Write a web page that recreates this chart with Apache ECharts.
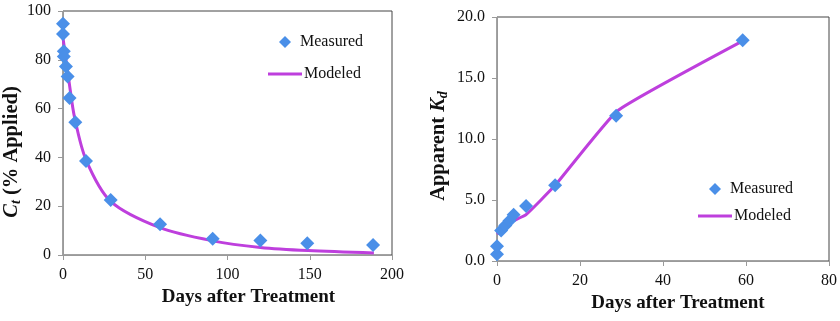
<!DOCTYPE html>
<html><head><meta charset="utf-8">
<script src="https://cdn.jsdelivr.net/npm/echarts@6/dist/echarts.min.js"></script>
<style>html,body{margin:0;padding:0;background:#fff}#c{width:840px;height:321px}</style>
</head><body><div id="c"></div>
<script>
// Left chart: Ct (% applied) vs days
const ctMeasDays = [0, 0, 0.5, 0.5, 1.8, 2.8, 4, 7.5, 14, 29, 59, 91, 120, 148.5, 188.5];
const ctMeasVals = [94.8, 90.6, 83.5, 81.4, 77.3, 73.2, 64.3, 54.4, 38.5, 22.5, 12.6, 6.7, 5.9, 4.8, 4.1];
const ctModDays = [0, 1, 2, 3, 4, 7, 14, 29, 59, 91, 120, 149, 189];
const ctModVals = [89, 84, 79, 74.5, 69.5, 56.5, 39, 22, 11.2, 5.8, 3.1, 1.8, 0.8];
const ctXTicks = [0, 50, 100, 150, 200];
const ctYTicks = [0, 20, 40, 60, 80, 100];
// Right chart: apparent Kd vs days
const kdMeasDays = [0, 0, 1, 2, 3, 4, 7, 14, 28.7, 59.2];
const kdMeasVals = [0.55, 1.2, 2.5, 2.9, 3.3, 3.8, 4.5, 6.2, 11.9, 18.1];
const kdModDays = [0, 1, 2, 3, 4, 7, 14, 29, 59];
const kdModVals = [2.2, 2.5, 2.8, 3.1, 3.3, 3.8, 6.2, 12.3, 18.0];
const kdXTicks = [0, 20, 40, 60, 80];
const kdYTicks = [0, 5, 10, 15, 20];

const zip = (a, b) => a.map((v, i) => [v, b[i]]);
const FONT = '"Liberation Serif", "Times New Roman", serif';
const BLUE = '#4A8FE8';
const MAG = '#BE3FDD';

function xAxis(gridIndex, ticks, gap, pad) {
  return {
    type: 'value', gridIndex, min: ticks[0], max: ticks[ticks.length - 1],
    interval: ticks[1] - ticks[0],
    name: 'Days after Treatment', nameLocation: 'middle', nameGap: gap,
    nameTextStyle: { fontFamily: FONT, fontWeight: 'bold', fontSize: 19, color: '#111', padding: pad },
    axisLine: { show: true, lineStyle: { color: '#9a9a9a', width: 1 } },
    axisTick: { show: true, inside: false, length: 5, lineStyle: { color: '#9a9a9a' } },
    axisLabel: { fontFamily: FONT, fontSize: 16, color: '#111', margin: 12 },
    splitLine: { show: false }
  };
}
function yAxis(gridIndex, ticks, name, gap, decimals, rich, pad) {
  return {
    type: 'value', gridIndex, min: ticks[0], max: ticks[ticks.length - 1],
    interval: ticks[1] - ticks[0],
    name, nameLocation: 'middle', nameGap: gap,
    nameTextStyle: { fontFamily: FONT, fontWeight: 'bold', fontSize: 20, color: '#111', rich, padding: pad },
    axisLine: { show: true, lineStyle: { color: '#9a9a9a', width: 1 } },
    axisTick: { show: true, inside: false, length: 5, lineStyle: { color: '#9a9a9a' } },
    axisLabel: { fontFamily: FONT, fontSize: 16, color: '#111', margin: 12,
      formatter: v => v.toFixed(decimals) },
    splitLine: { show: false }
  };
}
const richBase = {
  b: { fontFamily: FONT, fontWeight: 'bold', fontSize: 20.5, color: '#111' },
  i: { fontFamily: FONT, fontWeight: 'bold', fontStyle: 'italic', fontSize: 20.5, color: '#111' },
  sub: { fontFamily: FONT, fontWeight: 'bold', fontStyle: 'italic', fontSize: 14, color: '#111', padding: [8, 0, 0, 0] }
};
const legText = { fontFamily: FONT, fontSize: 16, color: '#111' };

const chart = echarts.init(document.getElementById('c'), null, { renderer: 'canvas' });
chart.setOption({
  animation: false,
  backgroundColor: '#fff',
  grid: [
    { left: 63, right: 448, top: 11, bottom: 66, show: true, borderColor: '#444', borderWidth: 1, backgroundColor: 'transparent' },
    { left: 497, right: 10, top: 17, bottom: 60, show: true, borderColor: '#444', borderWidth: 1, backgroundColor: 'transparent' }
  ],
  xAxis: [xAxis(0, ctXTicks, 31, [0, 0, 0, 42]), xAxis(1, kdXTicks, 32, [0, 0, 0, 30])],
  yAxis: [
    yAxis(0, ctYTicks, '{i|C}{sub|t}{b| (% Applied)}', 36, 0, richBase, [0, 38, 0, 0]),
    yAxis(1, kdYTicks, '{b|Apparent }{i|K}{sub|d}', 47, 1, richBase, [0, 14, 0, 0])
  ],
  legend: [
    { left: 279, top: 34, padding: 0, itemWidth: 12, itemHeight: 12, icon: 'diamond',
      textStyle: Object.assign({ padding: [0, 0, 0, 4] }, legText), data: ['Measured'] },
    { left: 268, top: 66, padding: 0, itemWidth: 34, itemHeight: 3, icon: 'rect',
      textStyle: Object.assign({ padding: [0, 0, 0, -3] }, legText), data: ['Modeled'] },
    { left: 709, top: 181, padding: 0, itemWidth: 12, itemHeight: 12, icon: 'diamond',
      textStyle: Object.assign({ padding: [0, 0, 0, 4] }, legText), data: ['Measured'] },
    { left: 698, top: 208, padding: 0, itemWidth: 34, itemHeight: 3, icon: 'rect',
      textStyle: Object.assign({ padding: [0, 0, 0, -3] }, legText), data: ['Modeled'] }
  ],
  series: [
    { name: 'Modeled', type: 'line', xAxisIndex: 0, yAxisIndex: 0, data: zip(ctModDays, ctModVals),
      smooth: 0.3, showSymbol: false, symbol: 'none', lineStyle: { color: MAG, width: 3 }, itemStyle: { color: MAG }, z: 2 },
    { name: 'Measured', type: 'scatter', xAxisIndex: 0, yAxisIndex: 0, data: zip(ctMeasDays, ctMeasVals),
      symbol: 'diamond', symbolSize: 14, itemStyle: { color: BLUE, opacity: 1 }, z: 3 },
    { name: 'Modeled', type: 'line', xAxisIndex: 1, yAxisIndex: 1, data: zip(kdModDays, kdModVals),
      smooth: 0.12, showSymbol: false, symbol: 'none', lineStyle: { color: MAG, width: 3 }, itemStyle: { color: MAG }, z: 2 },
    { name: 'Measured', type: 'scatter', xAxisIndex: 1, yAxisIndex: 1, data: zip(kdMeasDays, kdMeasVals),
      symbol: 'diamond', symbolSize: 14, itemStyle: { color: BLUE, opacity: 1 }, z: 3 }
  ]
});
</script></body></html>
